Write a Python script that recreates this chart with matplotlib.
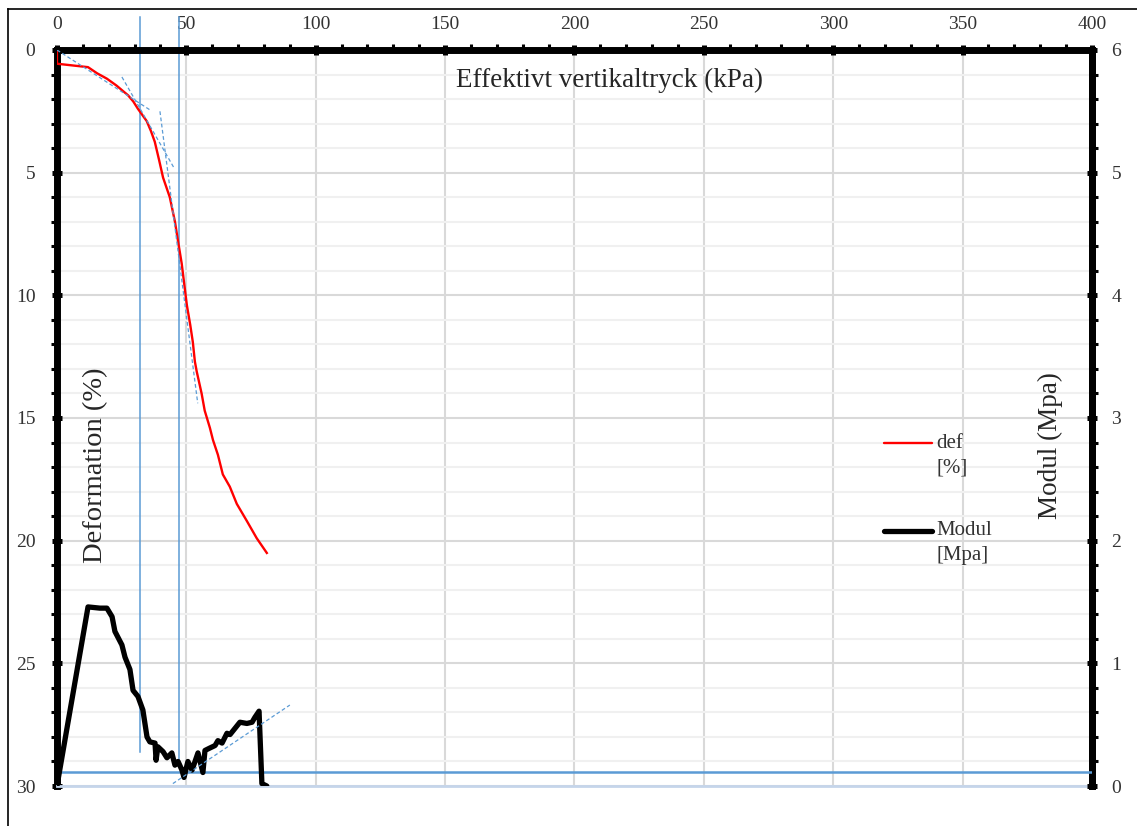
import matplotlib
matplotlib.use("Agg")
import matplotlib.pyplot as plt
from matplotlib.lines import Line2D
from matplotlib.ticker import MultipleLocator

# oedometer curve: effective vertical pressure (kPa) vs deformation (%)
pressure_def = [0, 0, 12, 15.5, 19.3, 23, 27.5, 29.5, 31.3, 33, 34.7, 36.3,
                37.8, 39.5, 41, 42.3, 43.6, 45.6, 46.8, 48.2, 50.2, 51.5,
                52.5, 53.3, 54, 55.9, 57.1, 59.1, 60.3, 62.2, 64.1, 66.8,
                69.5, 73.4, 77.2, 81.1]
deformation = [0, 0.56, 0.7, 0.95, 1.17, 1.45, 1.85, 2.1, 2.4, 2.65, 2.9, 3.3,
               3.74, 4.5, 5.2, 5.6, 6.0, 7.0, 7.8, 8.7, 10.4, 11.2,
               11.9, 12.7, 13.1, 14.0, 14.7, 15.4, 15.9, 16.5, 17.3, 17.8,
               18.5, 19.2, 19.9, 20.5]

# modulus (MPa) vs effective vertical pressure
pressure_mod = [0, 12.0, 16.6, 19.3, 21.3, 22.4, 25.1, 26.3, 28.2, 29.4, 31.3,
                33.2, 34.8, 35.9, 37.9, 38.3, 39.0, 41.0, 42.5, 44.4, 45.6,
                46.8, 48.3, 49.1, 50.6, 52.2, 54.5, 56.4, 57.2, 59.1, 61.1,
                62.2, 63.8, 65.7, 66.9, 68.8, 70.7, 73.4, 75.4, 76.5, 78.1,
                79.2, 81.1]
modul = [0, 1.46, 1.45, 1.45, 1.38, 1.26, 1.15, 1.05, 0.95, 0.78, 0.73,
         0.62, 0.40, 0.36, 0.35, 0.21, 0.32, 0.28, 0.23, 0.27, 0.17,
         0.20, 0.13, 0.07, 0.20, 0.13, 0.27, 0.11, 0.29, 0.31, 0.33,
         0.37, 0.35, 0.43, 0.42, 0.47, 0.52, 0.51, 0.52, 0.56, 0.61,
         0.02, 0.0]

# construction lines (tangents, preconsolidation markers)
tangents_def = [([0, 35.9], [0, 2.44]),
                ([25.1, 45.2], [1.1, 4.8]),
                ([39.8, 54.4], [2.5, 14.4])]
tangent_mod = ([44.8, 90.0], [0.02, 0.66])
marker_x = [31.9, 47.3]
marker_bottom = [28.6, 28.95]
modul_ref = 0.117

BLUE = "#5b9bd5"
TXT = "#262626"
plt.rcParams["font.family"] = ["Liberation Serif", "DejaVu Serif"]

fig = plt.figure(figsize=(11.37, 8.26), dpi=100)
ax = fig.add_axes([0.0501, 0.0484, 0.9103, 0.8911])
ax2 = ax.twinx()

ax.set_xlim(0, 400)
ax.set_ylim(30, 0)
ax2.set_ylim(0, 6)

ax.xaxis.tick_top()
ax.xaxis.set_major_locator(MultipleLocator(50))
ax.xaxis.set_minor_locator(MultipleLocator(10))
ax.yaxis.set_major_locator(MultipleLocator(5))
ax.yaxis.set_minor_locator(MultipleLocator(1))
ax2.yaxis.set_major_locator(MultipleLocator(1))
ax2.yaxis.set_minor_locator(MultipleLocator(0.2))

# gridlines
ax.set_axisbelow(True)
ax.grid(which="major", axis="x", color="#d9d9d9", lw=1.5)
ax.grid(which="major", axis="y", color="#d9d9d9", lw=1.5)
ax.grid(which="minor", axis="y", color="#f0f0f0", lw=1.5)

for side in ("top", "left", "right"):
    ax.spines[side].set_linewidth(5)
    ax.spines[side].set_color("black")
ax.spines["bottom"].set_color("#c5d5ea")
ax.spines["bottom"].set_linewidth(2)
for side in ("top", "left", "bottom"):
    ax2.spines[side].set_visible(False)
ax2.spines["right"].set_linewidth(5)
ax2.spines["right"].set_color("black")

ax.tick_params(which="major", direction="inout", length=7, width=3.6,
               color="black", labelsize=14, labelcolor="#333333")
ax.tick_params(which="minor", direction="out", length=4.5, width=2.2,
               color="black")
ax.tick_params(axis="x", which="major", pad=8.5)
ax.tick_params(axis="y", which="major", pad=12)
ax.tick_params(axis="y", which="both", right=False)
ax2.tick_params(which="major", direction="inout", length=7, width=3.6,
                color="black", labelsize=14, labelcolor="#333333", pad=10.5)
ax2.tick_params(which="minor", direction="out", length=4.5, width=2.2,
                color="black")

# deformation curve and its tangents
ax.plot(pressure_def, deformation, color="red", lw=1.7, zorder=4)
for xs, ys in tangents_def:
    ax.plot(xs, ys, color=BLUE, lw=0.9, ls=(0, (3, 2)), zorder=5)
for x, yb in zip(marker_x, marker_bottom):
    ax.plot([x, x], [-1.35, yb], color=BLUE, lw=1.1, clip_on=False, zorder=2)

# modulus curve
ax2.axhline(modul_ref, xmin=0, xmax=1, color=BLUE, lw=1.8, zorder=3)
ax2.plot(pressure_mod, modul, color="black", lw=3.8, zorder=4,
         solid_joinstyle="round", solid_capstyle="round")
ax2.plot(tangent_mod[0], tangent_mod[1], color=BLUE, lw=0.9,
         ls=(0, (3, 2)), zorder=5)

# axis titles placed inside the frame
ax.text(0.534, 0.959, "Effektivt vertikaltryck (kPa)", transform=ax.transAxes,
        ha="center", va="center", fontsize=19.5, color=TXT)
ax.text(0.0375, 0.436, "Deformation (%)", transform=ax.transAxes,
        ha="center", va="center", rotation=90, fontsize=20.5, color=TXT)
ax.text(0.96, 0.463, "Modul (Mpa)", transform=ax.transAxes,
        ha="center", va="center", rotation=90, fontsize=19.5, color=TXT)

# legend
legend_rows = [("red", 1.7, ("def", "[%]"), 0.466),
               ("black", 3.8, ("Modul", "[Mpa]"), 0.3465)]
for color, lw, (line1, line2), y in legend_rows:
    ax.add_line(Line2D([0.799, 0.845], [y, y], color=color, lw=lw,
                       transform=ax.transAxes, solid_capstyle="round"))
    ax.text(0.85, y, line1, transform=ax.transAxes, ha="left",
            va="center", fontsize=15, color="#333333")
    ax.text(0.85, y - 0.0335, line2, transform=ax.transAxes, ha="left",
            va="center", fontsize=15, color="#333333")

# chart frame (left and top edges)
fig.add_artist(Line2D([8 / 1137, 8 / 1137], [0, 1 - 9 / 826], color="black",
                      lw=1.2, transform=fig.transFigure))
fig.add_artist(Line2D([8 / 1137, 1], [1 - 9 / 826, 1 - 9 / 826], color="black",
                      lw=1.2, transform=fig.transFigure))

fig.savefig("out.png", dpi=100)
